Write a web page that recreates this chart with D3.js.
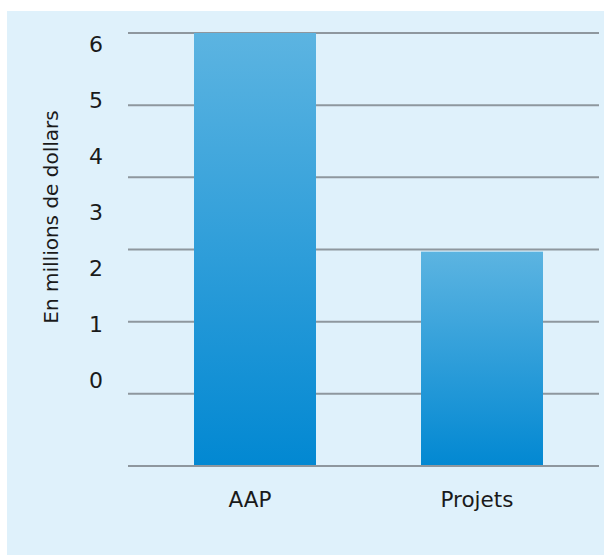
<!DOCTYPE html>
<html>
<head>
<meta charset="utf-8">
<script src="https://cdn.jsdelivr.net/npm/d3@7"></script>
<style>
  body { margin: 0; background: #fff; }
  text { font-family: "DejaVu Sans", Verdana, sans-serif; fill: #1a1a1a; }
</style>
</head>
<body>
<div id="chart"></div>
<script>
// Données du graphique
const categories = ["AAP", "Projets"];
const values = [6.0, 2.97];
const tickValues = [6, 5, 4, 3, 2, 1, 0];
const yTitle = "En millions de dollars";

const W = 604, H = 556;

const svg = d3.select("#chart")
  .append("svg")
  .attr("width", W)
  .attr("height", H);

// fond bleu clair
svg.append("rect")
  .attr("x", 7).attr("y", 11)
  .attr("width", W - 7).attr("height", H - 11 - 1)
  .attr("fill", "#dff1fb");

// dégradé des barres
const grad = svg.append("defs").append("linearGradient")
  .attr("id", "barGrad")
  .attr("x1", "0%").attr("y1", "0%")
  .attr("x2", "0%").attr("y2", "100%");
grad.append("stop").attr("offset", "0%").attr("stop-color", "#5cb4e1");
grad.append("stop").attr("offset", "100%").attr("stop-color", "#0288d2");

// échelles
const y = d3.scaleLinear().domain([0, 6]).range([466, 33]);
// les étiquettes de l'axe sont décalées par rapport aux lignes dans l'original
const yLabel = d3.scaleLinear().domain([0, 6]).range([380, 44]);

const x = d3.scaleBand()
  .domain(categories)
  .range([141.5, 595.5])
  .paddingInner(0.4626)
  .paddingOuter(0.2313);

// lignes de grille
svg.append("g")
  .selectAll("line")
  .data(tickValues)
  .enter()
  .append("line")
  .attr("x1", 128)
  .attr("x2", 599)
  .attr("y1", d => y(d))
  .attr("y2", d => y(d))
  .attr("stroke", "#8e979e")
  .attr("stroke-width", 2);

// barres
svg.append("g")
  .selectAll("rect")
  .data(categories)
  .enter()
  .append("rect")
  .attr("x", d => x(d))
  .attr("y", (d, i) => y(values[i]))
  .attr("width", x.bandwidth())
  .attr("height", (d, i) => y(0) - y(values[i]))
  .attr("fill", "url(#barGrad)");

// la ligne du bas par-dessus les barres
svg.append("line")
  .attr("x1", 128).attr("x2", 599)
  .attr("y1", y(0)).attr("y2", y(0))
  .attr("stroke", "#8e979e")
  .attr("stroke-width", 2);

// étiquettes axe Y
svg.append("g")
  .selectAll("text")
  .data(tickValues)
  .enter()
  .append("text")
  .attr("x", 96)
  .attr("y", d => yLabel(d))
  .attr("dy", "0.36em")
  .attr("text-anchor", "middle")
  .style("font-size", "22px")
  .text(d => d);

// étiquettes axe X
svg.append("g")
  .selectAll("text")
  .data(categories)
  .enter()
  .append("text")
  .attr("x", d => x(d) + x.bandwidth() / 2 - 5)
  .attr("y", 507)
  .attr("text-anchor", "middle")
  .style("font-size", "21.5px")
  .text(d => d);

// titre de l'axe Y
svg.append("text")
  .attr("transform", "translate(58, 217) rotate(-90)")
  .attr("text-anchor", "middle")
  .style("font-size", "20px")
  .text(yTitle);
</script>
</body>
</html>
